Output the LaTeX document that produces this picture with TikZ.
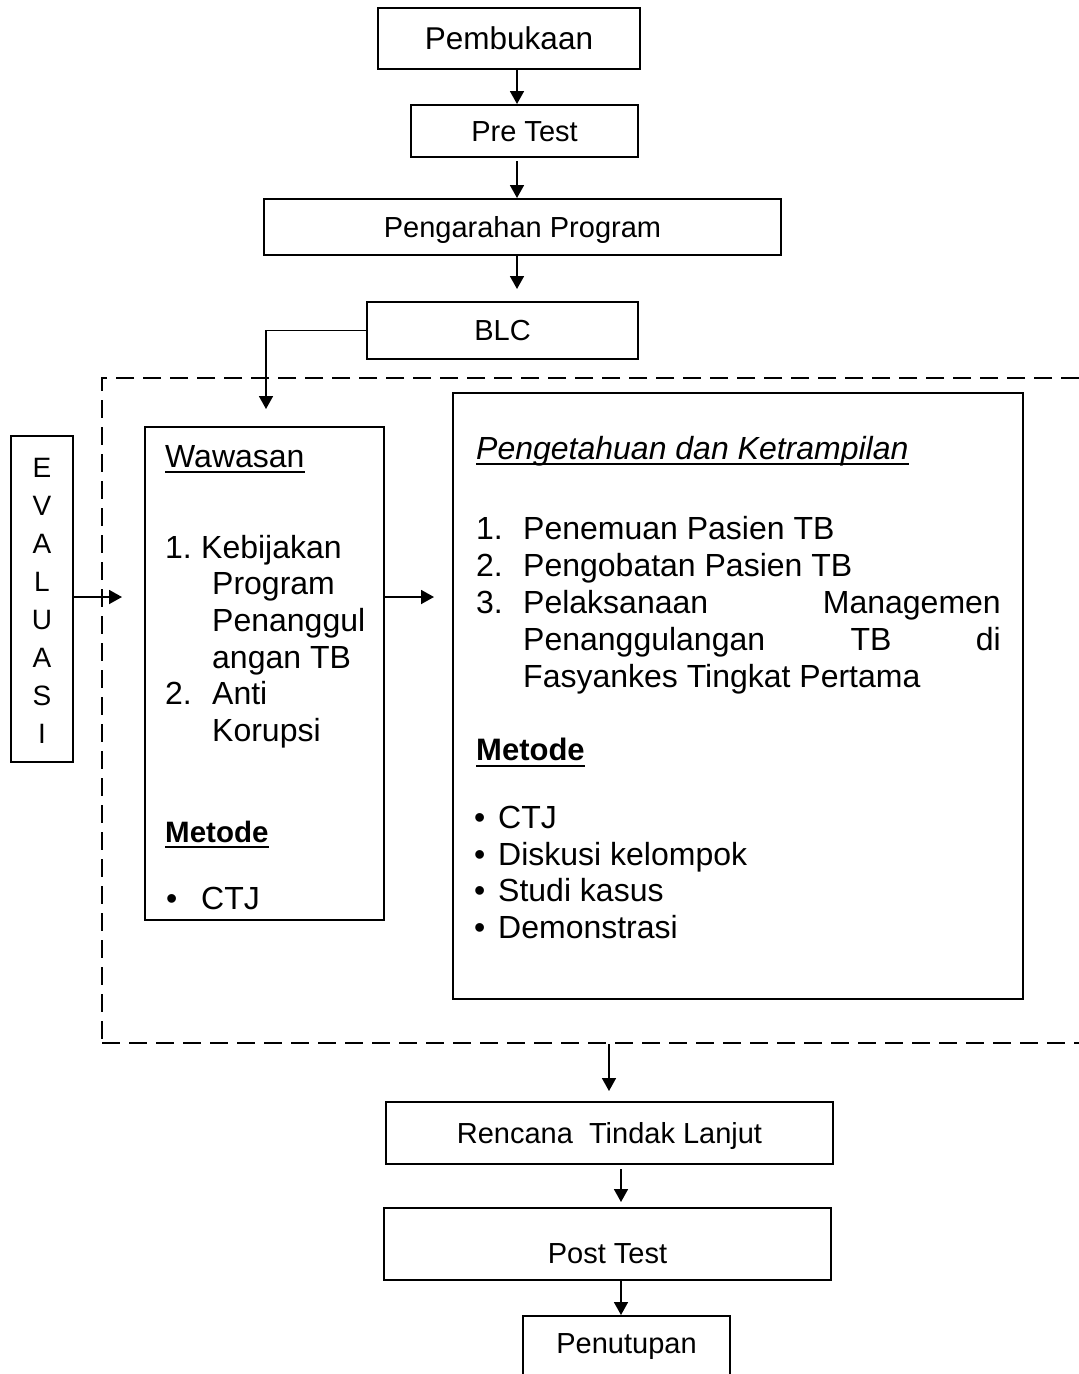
\documentclass[tikz,border=0pt]{standalone}
\usepackage{fontspec}
\setmainfont{Liberation Sans}
\usetikzlibrary{arrows.meta}
\newcommand\szbig{\fontsize{31.5}{37}\selectfont}
\newcommand\szbox{\fontsize{29}{35}\selectfont}
\newcommand\szin{\fontsize{32}{37}\selectfont}
\newcommand\szev{\fontsize{28}{38}\selectfont}
\begin{document}
\begin{tikzpicture}[x=1pt,y=-1pt,
  box/.style={draw, line width=2pt, inner sep=0pt, font=\szbox, text height=20.8pt, text depth=0pt},
  lbl/.style={inner sep=0pt, text depth=0pt, font=\szbox, text height=20.8pt},
  t/.style={anchor=base west, inner sep=0pt, font=\szin},
  arr/.style={line width=1.8pt, -{Triangle[length=13pt,width=14pt]}},
  ul/.style={line width=2.4pt},
  dashbox/.style={draw, line width=2.8pt, dash pattern=on 18pt off 9pt, inner sep=0pt}
]
\clip (0,0) rectangle (1079,1374);
\fill[white] (0,0) rectangle (1079,1374);

% top chain
\node[box, minimum width=262pt, minimum height=61pt, font=\szbig, text height=22.5pt] (pemb) at (509,38.5) {Pembukaan};
\node[box, minimum width=227pt, minimum height=52pt] (pre) at (524.5,131) {Pre Test};
\node[box, minimum width=517pt, minimum height=56pt] (peng) at (522.5,227) {Pengarahan Program};
\node[box, minimum width=271pt, minimum height=57pt] (blc) at (502.5,330.5) {BLC};

% group
\node[dashbox, minimum width=993pt, minimum height=665pt] (grp) at (598.5,710.5) {};
\node[box, minimum width=239pt, minimum height=493pt] (waw) at (264.5,673.5) {};
\node[box, minimum width=570pt, minimum height=606pt] (pk) at (738,696) {};
\node[box, minimum width=62pt, minimum height=326pt] (eval) at (42,599) {};

\foreach \l [count=\i] in {E,V,A,L,U,A,S,I}
  \node[lbl, font=\szev, text height=20pt] (ev\i) at (42,{467+38*(\i-1)}) {\l};

% bottom chain
\node[box, minimum width=447pt, minimum height=62pt] (rtl) at (609.5,1133) {Rencana\ \ Tindak Lanjut};
\node[box, minimum width=447pt, minimum height=72pt] (post) at (607.5,1244) {};
\node[lbl] (postT) at ([yshift=-9pt]post.center) {Post Test};
\node[box, minimum width=207pt, minimum height=80pt] (tutup) at (626.5,1356) {};
\node[lbl] (tutupT) at (626.5,1343) {Penutupan};

% Wawasan box text
\node[t] (wT) at (165,467) {Wawasan};
\draw[ul] ([yshift=-5pt]wT.base west) -- ([yshift=-5pt]wT.base east);
\node[t] (w1n) at (165,558) {1.};
\node[t] (w1a) at (201,558) {Kebijakan};
\node[t] (w1b) at (212,594) {Program};
\node[t] (w1c) at (212,631) {Penanggul};
\node[t] (w1d) at (212,668) {angan TB};
\node[t] (w2n) at (165,704) {2.};
\node[t] (w2a) at (212,704) {Anti};
\node[t] (w2b) at (212,741) {Korupsi};
\node[t, font=\fontsize{29.5}{35}\selectfont\bfseries] (wM) at (165,842) {Metode};
\draw[ul] ([yshift=-5pt]wM.base west) -- ([yshift=-5pt]wM.base east);
\node[t] (wb) at (166,909) {•};
\node[t] (wc) at (201,909) {CTJ};

% Pengetahuan box text
\node[t, font=\szin\itshape] (pT) at (476,459) {Pengetahuan dan Ketrampilan};
\draw[ul] ([yshift=-5pt]pT.base west) -- ([yshift=-5pt]pT.base east);
\node[t] (p1n) at (476,539) {1.};
\node[t] (p1) at (523,539) {Penemuan Pasien TB};
\node[t] (p2n) at (476,576) {2.};
\node[t] (p2) at (523,576) {Pengobatan Pasien TB};
\node[t] (p3n) at (476,613) {3.};
\node[t] (p3a) at (523,613) {Pelaksanaan};
\node[t, anchor=base east] (p3b) at (1001,613) {Managemen};
\node[t] (p3c) at (523,650) {Penanggulangan};
\node[t, anchor=base] (p3d) at (871,650) {TB};
\node[t, anchor=base east] (p3e) at (1001,650) {di};
\node[t] (p3f) at (523,687) {Fasyankes Tingkat Pertama};
\node[t, font=\fontsize{31}{37}\selectfont\bfseries] (pM) at (476,760) {Metode};
\draw[ul] ([yshift=-6pt]pM.base west) -- ([yshift=-6pt]pM.base east);
\foreach \m/\yy [count=\i] in {CTJ/828, Diskusi kelompok/865, Studi kasus/901, Demonstrasi/938}{
  \node[t] (pb\i) at (474,\yy) {•};
  \node[t] (pm\i) at (498,\yy) {\m};
}

% connectors
\coordinate (xa) at (517,0);
\coordinate (xb) at (266,0);
\coordinate (ya) at (0,597);
\coordinate (xc) at (609,0);
\coordinate (xd) at (621,0);
\draw[arr] (pemb.south -| xa) -- (pre.north -| xa);
\draw[arr, shorten <=3pt] (pre.south -| xa) -- (peng.north -| xa);
\draw[arr, shorten >=12pt] (peng.south -| xa) -- (blc.north -| xa);
\draw[arr, shorten >=17pt] (blc.west) -| (waw.north -| xb);
\draw[arr, shorten >=22pt] (eval.east |- ya) -- (waw.west |- ya);
\draw[arr, shorten >=18pt] (waw.east |- ya) -- (pk.west |- ya);
\draw[arr, shorten >=10pt] (grp.south -| xc) -- (rtl.north -| xc);
\draw[arr, shorten <=4pt, shorten >=5pt] (rtl.south -| xd) -- (post.north -| xd);
\draw[arr] (post.south -| xd) -- (tutup.north -| xd);
\end{tikzpicture}
\end{document}
